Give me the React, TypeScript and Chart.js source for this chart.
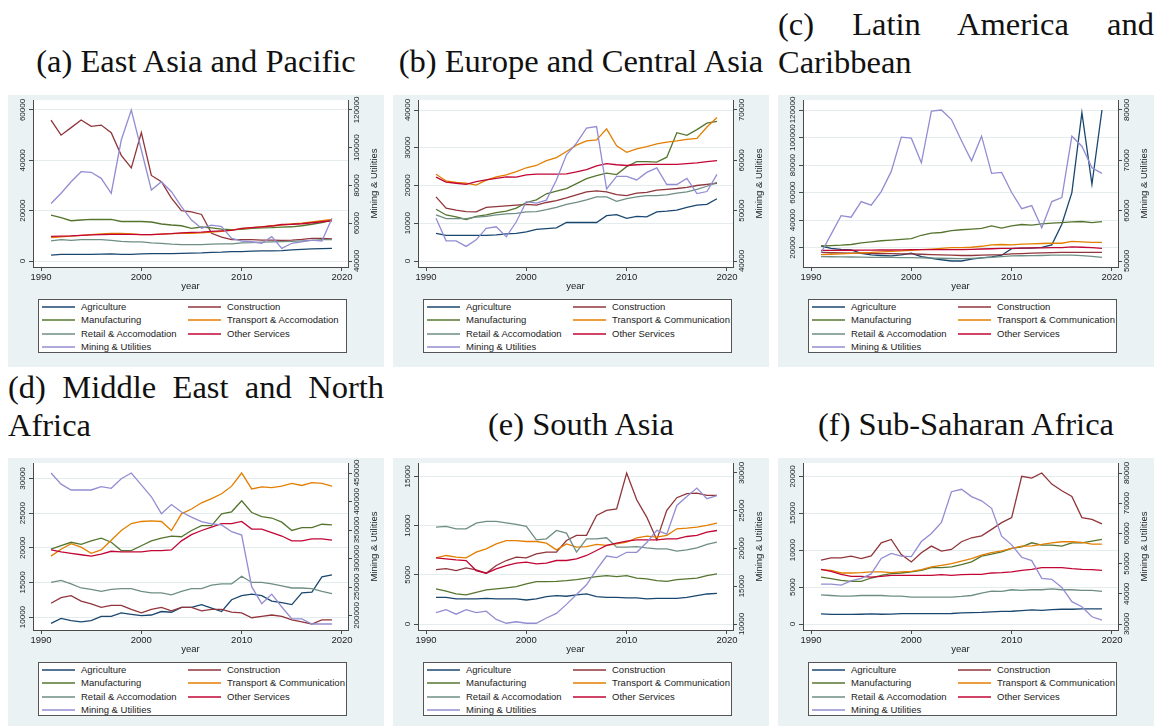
import React, { useEffect, useRef } from 'react';
import { Chart, registerables } from 'chart.js';

Chart.register(...registerables);

// ---------- data ----------
const years = [
  1991, 1992, 1993, 1994, 1995, 1996, 1997, 1998, 1999, 2000,
  2001, 2002, 2003, 2004, 2005, 2006, 2007, 2008, 2009, 2010,
  2011, 2012, 2013, 2014, 2015, 2016, 2017, 2018, 2019,
];
const xTickValues = [1990, 2000, 2010, 2020];
const xTitle = 'year';

const seriesNames = [
  'Agriculture', 'Construction', 'Manufacturing', 'Transport & Communication',
  'Retail & Accomodation', 'Other Services', 'Mining & Utilities',
];
const seriesNamesEAP = [
  'Agriculture', 'Construction', 'Manufacturing', 'Transport & Accomodation',
  'Retail & Accomodation', 'Other Services', 'Mining & Utilities',
];

// (a) East Asia and Pacific
const eapAgriculture = [2300, 2600, 2600, 2600, 2600, 2700, 2800, 2600, 2600, 2800, 2900, 2900, 2900, 3000, 3100, 3200, 3400, 3500, 3700, 3700, 3900, 4000, 4000, 4100, 4400, 4600, 4800, 4900, 5000];
const eapConstruction = [56000, 50000, 53000, 56000, 53500, 54000, 51000, 42000, 37000, 51000, 34000, 31500, 25000, 20000, 19500, 18500, 11000, 9500, 8500, 8500, 8500, 8300, 8300, 8200, 8300, 8600, 9000, 9000, 8800];
const eapManufacturing = [18200, 17200, 16000, 16300, 16500, 16500, 16500, 15700, 15700, 15700, 15500, 14700, 14300, 14000, 13000, 13500, 13200, 12700, 12500, 12600, 13000, 13200, 13300, 13500, 13600, 14000, 14600, 15300, 16200];
const eapTransport = [9300, 9600, 9900, 10200, 10500, 10800, 11000, 11000, 10800, 10500, 10500, 10700, 10900, 11000, 11000, 11200, 11500, 11800, 12300, 12900, 13300, 13600, 14000, 14300, 14700, 15000, 15500, 16000, 16500];
const eapRetail = [8000, 8500, 8200, 8500, 8500, 8500, 8200, 7800, 7600, 7600, 7200, 7000, 6700, 6500, 6500, 6500, 6700, 6800, 6800, 7200, 7300, 7500, 7600, 7700, 7800, 8000, 8200, 8500, 8500];
const eapOther = [9800, 9900, 10000, 10200, 10400, 10500, 10600, 10600, 10600, 10500, 10500, 10700, 10900, 11200, 11400, 11500, 11800, 12000, 12200, 13000, 13300, 13600, 13900, 14500, 14600, 14800, 15200, 15600, 16000];
const eapMining = [70500, 75900, 82000, 87300, 87000, 83800, 75900, 104100, 120000, 98800, 77600, 82000, 76700, 68800, 61700, 57300, 59000, 58200, 52000, 50600, 50200, 49400, 52900, 46700, 49400, 50200, 51100, 50600, 62600];
const eapLeftTicks = [0, 20000, 40000, 60000];
const eapRightTicks = [40000, 60000, 80000, 100000, 120000];

// (b) Europe and Central Asia
const ecaAgriculture = [7300, 6800, 6800, 6800, 6800, 6800, 6900, 7200, 7300, 7700, 8400, 8600, 8800, 10200, 10200, 10200, 10200, 12000, 12300, 11300, 11800, 11700, 13000, 13200, 13500, 14200, 14800, 15000, 16500];
const ecaConstruction = [17000, 14000, 13500, 13100, 13000, 14200, 14400, 14600, 14800, 15000, 14800, 15500, 16000, 16700, 17500, 18300, 18600, 18300, 17600, 17300, 18000, 18200, 18800, 19000, 19200, 19500, 20000, 20300, 20600];
const ecaManufacturing = [13700, 12200, 11700, 11000, 11800, 12200, 12800, 13200, 14000, 15500, 16200, 17800, 18500, 19200, 20500, 21800, 22600, 23300, 22900, 25000, 26300, 26300, 26200, 27500, 34000, 33300, 34800, 36500, 37000];
const ecaTransport = [23000, 21200, 20800, 20600, 20100, 21400, 22300, 22800, 23700, 24700, 25300, 26600, 27400, 29000, 30700, 31800, 32100, 35000, 30500, 28800, 29700, 30300, 31000, 31500, 31800, 32200, 32500, 35500, 38000];
const ecaRetail = [12200, 11200, 11200, 11200, 11600, 11800, 12200, 12500, 12600, 13000, 13100, 13600, 14200, 15000, 15500, 16200, 17000, 17000, 15800, 16500, 17000, 17300, 17300, 17500, 18000, 18300, 19000, 19800, 20800];
const ecaOther = [22200, 20900, 20600, 20300, 21000, 21500, 21900, 22300, 22200, 22800, 23000, 23000, 23000, 23100, 23600, 24200, 25200, 25800, 25500, 25300, 25500, 25600, 25600, 25600, 25600, 25800, 26000, 26300, 26600];
const ecaMining = [48500, 44000, 44000, 42900, 44200, 46500, 46800, 44800, 47800, 51800, 51500, 52100, 56100, 61100, 63400, 66400, 66700, 54300, 56800, 56800, 56100, 57600, 58500, 55200, 55200, 56400, 53400, 53800, 57200];
const ecaLeftTicks = [0, 10000, 20000, 30000, 40000];
const ecaRightTicks = [40000, 50000, 60000, 70000];

// (c) Latin America and Caribbean
const lacAgriculture = [21200, 19500, 18800, 18300, 15900, 14700, 14300, 14000, 14700, 15900, 13500, 12300, 11200, 10300, 10300, 11700, 12600, 13300, 14500, 19300, 19700, 19700, 20200, 22000, 37000, 60000, 118000, 66000, 120000];
const lacConstruction = [16500, 16300, 16200, 16000, 16000, 15800, 15700, 15600, 15500, 15500, 15200, 15000, 14700, 14500, 14300, 14300, 14500, 14800, 15000, 15500, 15700, 16000, 16200, 16400, 16500, 16500, 16500, 16500, 16500];
const lacManufacturing = [21200, 21500, 21800, 22300, 23500, 24200, 25000, 25500, 26000, 26500, 29000, 30500, 31000, 32300, 33000, 33500, 34000, 35800, 34200, 35800, 36800, 36300, 37200, 37800, 38200, 38700, 39000, 38200, 38900];
const lacTransport = [15000, 15200, 15500, 15800, 16200, 16500, 17000, 17300, 17600, 18000, 18500, 19000, 19500, 20000, 20000, 20300, 21000, 22000, 22300, 22000, 22600, 22800, 23000, 23200, 23200, 24500, 24200, 23800, 23800];
const lacRetail = [13500, 13400, 13300, 13200, 13100, 13000, 13000, 12900, 12800, 12800, 12600, 12400, 12300, 12100, 12000, 12200, 12500, 13000, 13500, 14000, 14100, 14200, 14300, 14500, 14500, 14500, 14200, 13600, 13000];
const lacOther = [18000, 18000, 18100, 18100, 18200, 18200, 18300, 18300, 18400, 18500, 18500, 18500, 18500, 18500, 18600, 18800, 19000, 19200, 19500, 19500, 19700, 19800, 19900, 20000, 20000, 20500, 20300, 20000, 19500];
const lacMining = [51600, 55300, 59000, 58700, 61800, 61100, 63800, 67800, 74600, 74400, 69500, 79800, 80000, 78100, 73900, 69900, 74800, 67400, 67600, 63600, 60400, 61000, 56600, 61800, 62600, 74800, 72800, 68500, 67400];
const lacLeftTicks = [20000, 40000, 60000, 80000, 100000, 120000];
const lacRightTicks = [50000, 60000, 70000, 80000];

// (d) Middle East and North Africa
const menaAgriculture = [9100, 9800, 9500, 9300, 9500, 10100, 10100, 10600, 10400, 10200, 10300, 10800, 10700, 11400, 11400, 11800, 11300, 10800, 12500, 13100, 13300, 13100, 12300, 12100, 11800, 13500, 13600, 15800, 16100];
const menaConstruction = [12000, 12800, 13100, 12300, 11900, 11400, 11700, 11700, 11100, 10600, 11100, 11400, 10900, 11400, 11400, 10900, 11100, 11100, 10700, 10600, 9900, 10100, 10300, 10100, 9600, 9300, 9000, 9600, 9600];
const menaManufacturing = [19800, 20300, 20800, 20500, 21000, 21400, 20800, 19600, 19600, 20300, 21000, 21400, 21700, 21600, 22500, 23200, 23200, 24900, 25200, 26800, 25100, 24500, 24300, 23700, 22500, 22900, 22900, 23400, 23300];
const menaTransport = [18800, 19800, 20600, 20100, 19200, 19700, 21100, 22500, 23500, 23800, 23900, 23800, 22500, 24900, 25600, 26500, 27100, 27800, 28900, 30800, 28500, 28800, 28700, 28900, 29300, 29000, 29400, 29300, 28900];
const menaRetail = [15000, 15300, 14800, 14200, 14000, 13700, 14000, 14100, 14100, 13700, 13500, 13500, 13200, 13700, 14100, 14100, 14600, 14800, 14800, 15900, 15000, 15000, 14800, 14500, 14200, 14200, 14100, 13700, 13400];
const menaOther = [19700, 19400, 19200, 19000, 18800, 19100, 19500, 19400, 19400, 19400, 19600, 19600, 19700, 21000, 21900, 22500, 23000, 23500, 23500, 23800, 22700, 22700, 22200, 21700, 21000, 21000, 21300, 21300, 21100];
const menaMining = [450000, 430400, 420200, 420200, 420200, 426200, 423200, 439900, 450000, 429200, 408300, 378600, 394600, 381500, 372600, 364900, 360700, 358900, 347000, 341100, 250600, 220800, 237500, 214900, 194000, 194000, 185100, 185100, 185100];
const menaLeftTicks = [10000, 15000, 20000, 25000, 30000];
const menaRightTicks = [200000, 250000, 300000, 350000, 400000, 450000];

// (e) South Asia
const saAgriculture = [2710, 2710, 2550, 2550, 2550, 2610, 2550, 2550, 2550, 2440, 2550, 2780, 2880, 2820, 2950, 3050, 2780, 2710, 2710, 2650, 2650, 2550, 2610, 2610, 2610, 2710, 2880, 3050, 3120];
const saConstruction = [5530, 5630, 5430, 5700, 5500, 5160, 5940, 6450, 6790, 6720, 7130, 7300, 7300, 8480, 9000, 9000, 11030, 11540, 11700, 15340, 12620, 10860, 8550, 11540, 12830, 13240, 13300, 13070, 13070];
const saManufacturing = [3560, 3330, 3050, 2950, 3220, 3460, 3560, 3670, 3800, 4070, 4310, 4310, 4340, 4410, 4510, 4650, 4820, 4920, 4820, 4920, 4650, 4580, 4410, 4340, 4510, 4580, 4650, 4920, 5090];
const saTransport = [6720, 6960, 6790, 6720, 7300, 7640, 8140, 8480, 8480, 8380, 8380, 8210, 7530, 8140, 7810, 7870, 8080, 7980, 8140, 8310, 8760, 8930, 8820, 9000, 9670, 9740, 9840, 10010, 10250];
const saRetail = [9840, 9910, 9670, 9670, 10250, 10420, 10420, 10280, 10110, 9910, 8550, 8650, 9500, 9230, 7300, 8650, 8650, 8760, 7810, 7810, 7870, 7740, 7640, 7640, 7400, 7530, 7740, 8080, 8310];
const saOther = [6720, 6620, 6520, 6450, 5430, 5160, 5600, 5940, 6180, 6280, 6110, 6180, 6450, 6450, 6620, 6960, 7470, 7980, 8210, 8420, 8550, 8550, 8550, 8650, 8650, 8890, 9000, 9330, 9500];
const saMining = [11500, 11900, 11300, 11900, 11500, 11700, 10600, 10100, 10300, 10100, 10100, 10800, 11400, 12600, 13900, 15200, 17200, 19000, 18800, 19500, 19500, 20800, 22400, 21900, 25700, 26900, 28000, 26600, 27000];
const saLeftTicks = [0, 5000, 10000, 15000];
const saRightTicks = [10000, 15000, 20000, 25000, 30000];

// (f) Sub-Saharan Africa
const ssaAgriculture = [1360, 1300, 1300, 1300, 1320, 1360, 1320, 1340, 1400, 1400, 1400, 1400, 1400, 1420, 1500, 1550, 1580, 1650, 1700, 1730, 1820, 1900, 1850, 1950, 2000, 2000, 2050, 2050, 2050];
const ssaConstruction = [8640, 8950, 8950, 9180, 8860, 9230, 11000, 11450, 9410, 8410, 9640, 10550, 9860, 10090, 11140, 11680, 11950, 12820, 13730, 14410, 20000, 19770, 20450, 18950, 18050, 17270, 14410, 14180, 13550];
const ssaManufacturing = [6360, 6140, 5910, 5770, 5770, 6230, 6590, 6820, 6910, 7050, 7270, 7640, 7640, 7730, 8050, 8410, 9180, 9450, 9770, 10230, 10450, 11000, 10680, 10680, 10550, 11000, 11000, 11230, 11450];
const ssaTransport = [7360, 7270, 6910, 6910, 6950, 7050, 7050, 6950, 7050, 7140, 7360, 7730, 7950, 8180, 8500, 8860, 9320, 9680, 9910, 10230, 10550, 10590, 10770, 11000, 11140, 11140, 11050, 10820, 10820];
const ssaRetail = [3950, 3860, 3770, 3770, 3860, 3860, 3860, 3770, 3770, 3640, 3640, 3640, 3640, 3640, 3730, 3860, 4180, 4450, 4410, 4640, 4550, 4640, 4640, 4770, 4640, 4640, 4550, 4550, 4410];
const ssaOther = [7410, 7140, 6730, 6450, 6450, 6360, 6450, 6590, 6590, 6590, 6590, 6590, 6680, 6590, 6680, 6730, 6730, 6910, 6950, 7050, 7270, 7410, 7640, 7640, 7640, 7500, 7410, 7360, 7270];
const ssaMining = [43200, 43200, 42900, 44300, 45100, 46600, 51700, 53400, 52500, 52300, 57300, 60000, 63600, 73800, 74600, 72200, 70800, 68300, 59100, 56200, 52100, 51000, 45100, 44800, 42100, 37400, 35700, 32400, 31300];
const ssaLeftTicks = [0, 5000, 10000, 15000, 20000];
const ssaRightTicks = [30000, 40000, 50000, 60000, 70000, 80000];

// ---------- styles ----------
const COLORS = ['#1a476f', '#90353b', '#55752f', '#e37e00', '#6e8e84', '#c10534', '#938dd2'];
const SANS = '"Liberation Sans", Arial, Helvetica, sans-serif';
const SERIF = '"Liberation Serif", "Times New Roman", serif';
const PANEL_BG = '#eaf2f3';
const GRID = '#e4ecee';
const AXIS = '#4a4a4a';
const TEXT = '#222';

const COL_X = [8, 393, 778];
const ROW_Y = [95, 458];
const PANEL_W = 376;
const PANEL_H = 272;
const PLOT_LEFT = 25;
const PLOT_RIGHT = 340;
const PLOT_TOP = 5;
const PLOT_BOTTOM = 172;
const DATA_TOP = 15;
const DATA_BOTTOM = 166;
const X_AXIS_H = 22;
const X_1990_PX = 33;
const X_2020_PX = 334;

const panels = [
  { series: [eapAgriculture, eapConstruction, eapManufacturing, eapTransport, eapRetail, eapOther, eapMining], names: seriesNamesEAP, leftTicks: eapLeftTicks, rightTicks: eapRightTicks, col: 0, row: 0 },
  { series: [ecaAgriculture, ecaConstruction, ecaManufacturing, ecaTransport, ecaRetail, ecaOther, ecaMining], names: seriesNames, leftTicks: ecaLeftTicks, rightTicks: ecaRightTicks, col: 1, row: 0 },
  { series: [lacAgriculture, lacConstruction, lacManufacturing, lacTransport, lacRetail, lacOther, lacMining], names: seriesNames, leftTicks: lacLeftTicks, rightTicks: lacRightTicks, col: 2, row: 0 },
  { series: [menaAgriculture, menaConstruction, menaManufacturing, menaTransport, menaRetail, menaOther, menaMining], names: seriesNames, leftTicks: menaLeftTicks, rightTicks: menaRightTicks, col: 0, row: 1 },
  { series: [saAgriculture, saConstruction, saManufacturing, saTransport, saRetail, saOther, saMining], names: seriesNames, leftTicks: saLeftTicks, rightTicks: saRightTicks, col: 1, row: 1 },
  { series: [ssaAgriculture, ssaConstruction, ssaManufacturing, ssaTransport, ssaRetail, ssaOther, ssaMining], names: seriesNames, leftTicks: ssaLeftTicks, rightTicks: ssaRightTicks, col: 2, row: 1 },
];

const captions = [
  { lines: ['(a) East Asia and Pacific'], col: 0, top: 43 },
  { lines: ['(b) Europe and Central Asia'], col: 1, top: 43 },
  { lines: ['(c) Latin America and', 'Caribbean'], col: 2, top: 6 },
  { lines: ['(d) Middle East and North', 'Africa'], col: 0, top: 369 },
  { lines: ['(e) South Asia'], col: 1, top: 406 },
  { lines: ['(f) Sub-Saharan Africa'], col: 2, top: 406 },
];

function axisRange(values: number[], ticks: number[]) {
  const lo = Math.min(...values, ...ticks);
  const hi = Math.max(...values, ...ticks);
  const upp = (hi - lo) / (DATA_BOTTOM - DATA_TOP);
  return { min: lo - (PLOT_BOTTOM - DATA_BOTTOM) * upp, max: hi + (DATA_TOP - PLOT_TOP) * upp };
}

const axisTextPlugin = {
  id: 'axisText',
  beforeDraw(chart: any) {
    const { ctx, chartArea: a } = chart;
    ctx.save();
    ctx.fillStyle = '#ffffff';
    ctx.fillRect(a.left, a.top, a.right - a.left, a.bottom - a.top);
    ctx.restore();
  },
  afterDraw(chart: any) {
    const { ctx, chartArea: a } = chart;
    ctx.save();
    ctx.fillStyle = TEXT;
    ctx.textAlign = 'center';
    ctx.textBaseline = 'middle';
    ctx.font = `8px ${SANS}`;
    const drawRotated = (id: string, x: number) => {
      const s = chart.scales[id];
      s.ticks.forEach((t: any) => {
        const py = s.getPixelForValue(t.value);
        ctx.save();
        ctx.translate(x, py);
        ctx.rotate(-Math.PI / 2);
        ctx.fillText(String(t.value), 0, 0);
        ctx.restore();
      });
    };
    drawRotated('y', a.left - 10);
    drawRotated('y1', a.right + 9);
    ctx.font = `9.5px ${SANS}`;
    ctx.save();
    ctx.translate(a.right + 26, (a.top + a.bottom) / 2);
    ctx.rotate(-Math.PI / 2);
    ctx.fillText(chart.options.plugins.axisText.rightTitle, 0, 0);
    ctx.restore();
    ctx.fillText(xTitle, (a.left + a.right) / 2, a.bottom + 19);
    ctx.restore();
  },
};

function buildConfig(p: any): any {
  const pxPerYear = (X_2020_PX - X_1990_PX) / 30;
  const xMin = 1990 - (X_1990_PX - PLOT_LEFT) / pxPerYear;
  const xMax = 2020 + (PLOT_RIGHT - X_2020_PX) / pxPerYear;
  const left = axisRange(p.series.slice(0, 6).flat(), p.leftTicks);
  const right = axisRange(p.series[6], p.rightTicks);
  return {
    type: 'line',
    data: {
      datasets: p.series.map((vals: number[], i: number) => ({
        label: p.names[i],
        data: years.map((yr, j) => ({ x: yr, y: vals[j] })),
        yAxisID: i === 6 ? 'y1' : 'y',
        borderColor: COLORS[i],
        backgroundColor: COLORS[i],
        borderWidth: 1.3,
        pointRadius: 0,
        tension: 0,
        fill: false,
        order: 6 - i,
      })),
    },
    options: {
      responsive: false,
      animation: false,
      devicePixelRatio: 1,
      events: [],
      layout: { padding: { left: 0, right: 0, top: PLOT_TOP, bottom: PANEL_H - PLOT_BOTTOM - X_AXIS_H } },
      plugins: {
        legend: { display: false },
        tooltip: { enabled: false },
        axisText: { rightTitle: p.names[6] },
      },
      scales: {
        x: {
          type: 'linear',
          min: xMin,
          max: xMax,
          afterBuildTicks: (s: any) => { s.ticks = xTickValues.map((v) => ({ value: v })); },
          afterFit: (s: any) => { s.height = X_AXIS_H; },
          grid: { drawOnChartArea: false, drawTicks: true, tickLength: 4, tickColor: AXIS, tickWidth: 1 },
          border: { display: true, color: AXIS, width: 1 },
          ticks: { maxRotation: 0, minRotation: 0, padding: 1, autoSkip: false, color: TEXT, font: { family: SANS, size: 9.5 }, callback: (v: any) => String(v) },
        },
        y: {
          type: 'linear',
          position: 'left',
          min: left.min,
          max: left.max,
          afterBuildTicks: (s: any) => { s.ticks = p.leftTicks.map((v: number) => ({ value: v })); },
          afterFit: (s: any) => { s.width = PLOT_LEFT; },
          grid: { color: GRID, lineWidth: 1, drawTicks: true, tickLength: 4, tickColor: AXIS, tickWidth: 1 },
          border: { display: true, color: AXIS, width: 1 },
          ticks: { display: false },
        },
        y1: {
          type: 'linear',
          position: 'right',
          min: right.min,
          max: right.max,
          afterBuildTicks: (s: any) => { s.ticks = p.rightTicks.map((v: number) => ({ value: v })); },
          afterFit: (s: any) => { s.width = PANEL_W - PLOT_RIGHT; },
          grid: { drawOnChartArea: false, drawTicks: true, tickLength: 4, tickColor: AXIS, tickWidth: 1 },
          border: { display: true, color: AXIS, width: 1 },
          ticks: { display: false },
        },
      },
    },
    plugins: [axisTextPlugin],
  };
}

function Legend({ names }: { names: string[] }) {
  return (
    <div style={{ position: 'absolute', left: 30, top: 204, width: 309, height: 54, background: '#fff', border: '1px solid #555', boxSizing: 'border-box' }}>
      {names.map((n, i) => {
        const col = i % 2;
        const row = Math.floor(i / 2);
        const cy = Math.round(6 + row * 13.3);
        return (
          <React.Fragment key={n}>
            <div style={{ position: 'absolute', left: col ? 149 : 3, top: cy, width: 33, height: 2, background: COLORS[i], opacity: 0.75 }} />
            <div style={{ position: 'absolute', left: col ? 188 : 42, top: cy - 5, height: 12, lineHeight: '12px', fontFamily: SANS, fontSize: 9.5, color: TEXT, whiteSpace: 'nowrap' }}>{n}</div>
          </React.Fragment>
        );
      })}
    </div>
  );
}

function Panel({ p }: { p: any }) {
  const ref = useRef<HTMLCanvasElement>(null);
  useEffect(() => {
    const chart = new Chart(ref.current as HTMLCanvasElement, buildConfig(p));
    return () => chart.destroy();
  }, [p]);
  return (
    <div style={{ position: 'absolute', left: COL_X[p.col], top: ROW_Y[p.row], width: PANEL_W, height: PANEL_H, background: PANEL_BG }}>
      <canvas ref={ref} width={PANEL_W} height={PANEL_H} style={{ position: 'absolute', left: 0, top: 0, width: PANEL_W, height: PANEL_H }} />
      <Legend names={p.names} />
    </div>
  );
}

function Caption({ c }: { c: any }) {
  const base: React.CSSProperties = { fontFamily: SERIF, fontSize: 32.5, lineHeight: '37.5px', color: '#111', whiteSpace: 'nowrap' };
  return (
    <div style={{ position: 'absolute', left: COL_X[c.col], top: c.top, width: PANEL_W }}>
      {c.lines.length === 1 ? (
        <div style={{ ...base, textAlign: 'center' }}>{c.lines[0]}</div>
      ) : (
        <>
          <div style={{ ...base, whiteSpace: 'normal', textAlign: 'justify', textAlignLast: 'justify' } as React.CSSProperties}>{c.lines[0]}</div>
          <div style={{ ...base, textAlign: 'left' }}>{c.lines[1]}</div>
        </>
      )}
    </div>
  );
}

export default function App() {
  return (
    <div style={{ position: 'fixed', left: 0, top: 0, width: 1157, height: 726, background: '#fff', overflow: 'hidden' }}>
      {captions.map((c, i) => <Caption key={i} c={c} />)}
      {panels.map((p, i) => <Panel key={i} p={p} />)}
    </div>
  );
}
